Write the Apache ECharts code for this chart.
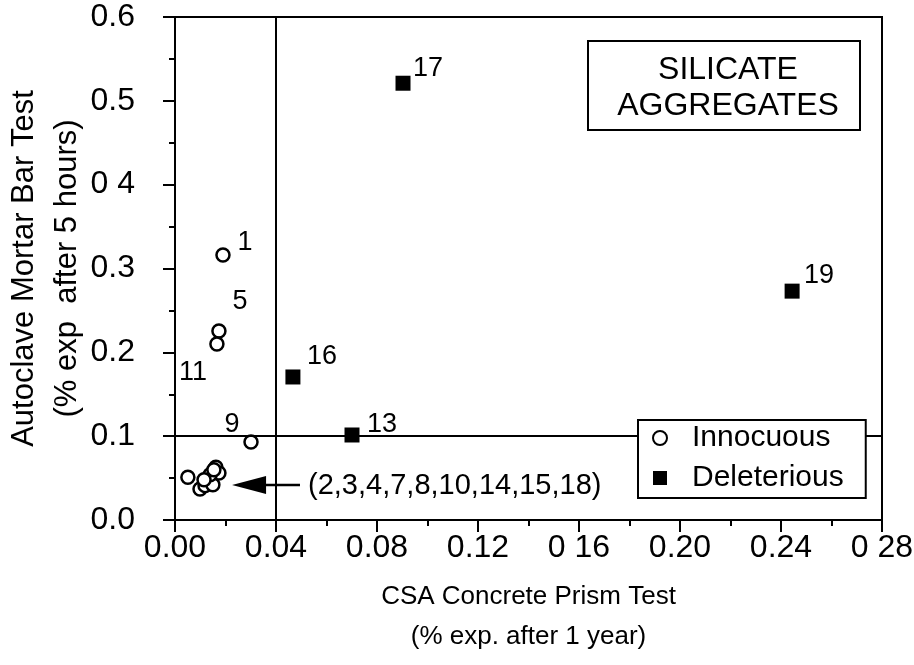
<!DOCTYPE html>
<html><head><meta charset="utf-8">
<script src="https://cdn.jsdelivr.net/npm/echarts@6/dist/echarts.min.js"></script>
<style>html,body{margin:0;padding:0;background:#fff}#c{width:914px;height:665px}</style>
</head><body><div id="c"></div>
<script>
// ---- data ----
const xTickLabels = ['0.00','0.04','0.08','0.12','0 16','0.20','0.24','0 28'];
const yTickLabels = ['0.0','0.1','0.2','0.3','0 4','0.5','0.6'];
const innocuousIds = ['1','5','11','9','c1','c2','c3','c4','c5','c6','c7','c8','c9'];
const innocuousX = [0.0190,0.0174,0.0166,0.0301,0.0051,0.0099,0.0119,0.0150,0.0162,0.0174,0.0139,0.0115,0.0154];
const innocuousY = [0.316,0.2255,0.210,0.093,0.051,0.037,0.041,0.042,0.063,0.056,0.054,0.048,0.060];
const deleteriousIds = ['17','19','16','13'];
const deleteriousX = [0.0903,0.2444,0.0467,0.0701];
const deleteriousY = [0.521,0.273,0.1706,0.1014];
const clusterLabel = '(2,3,4,7,8,10,14,15,18)';
const arrowTail = [0.0495,0.0418];
const arrowTip = [0.0226,0.0418];
const refX = 0.04, refY = 0.1;

// ---- label placement (style) ----
const labelOffsets = {'1':[22,-13],'5':[21,-29],'11':[-24,29],'9':[-19,-17],
  '17':[25,-15],'19':[27,-16],'16':[29,-20],'13':[30,-10]};

const FONT = '"Liberation Sans", Arial, Helvetica, sans-serif';
const INK = '#000';
function mk(ids, xs, ys){
  return ids.map((id,i)=>{
    const item = {value:[xs[i],ys[i]], name:id};
    if (labelOffsets[id]) {
      item.label = {show:true, formatter:id, position:'inside', offset:labelOffsets[id],
        color:INK, fontSize:27, fontFamily:FONT};
    }
    return item;
  });
}

const chart = echarts.init(document.getElementById('c'));
const option = {
  animation:false,
  backgroundColor:'#fff',
  grid:{left:175, right:32, top:17, bottom:145, show:true, borderColor:INK, borderWidth:2,
    outerBoundsMode:'none', containLabel:false},
  xAxis:{type:'value', min:0, max:0.28, interval:0.04,
    name:'CSA Concrete Prism Test\n(% exp. after 1 year)', nameLocation:'middle', nameGap:57,
    nameMoveOverlap:false,
    nameTextStyle:{fontSize:26, lineHeight:40, color:INK, fontFamily:FONT},
    axisLine:{show:true, lineStyle:{color:INK, width:2}},
    axisTick:{show:true, inside:false, length:12, lineStyle:{color:INK, width:2}},
    minorTick:{show:true, splitNumber:2, length:6, lineStyle:{color:INK, width:2}},
    splitLine:{show:false},
    axisLabel:{margin:12, fontSize:32, color:INK, fontFamily:FONT,
      formatter:v=>xTickLabels[Math.round(v/0.04)]}},
  yAxis:{type:'value', min:0, max:0.6, interval:0.1,
    name:'Autoclave Mortar Bar Test\n(% exp  after 5 hours)', nameLocation:'middle', nameGap:86, nameRotate:90,
    nameMoveOverlap:false,
    nameTextStyle:{fontSize:31, lineHeight:43, color:INK, fontFamily:FONT},
    axisLine:{show:true, lineStyle:{color:INK, width:2}},
    axisTick:{show:true, inside:false, length:12, lineStyle:{color:INK, width:2}},
    minorTick:{show:true, splitNumber:2, length:6, lineStyle:{color:INK, width:2}},
    splitLine:{show:false},
    axisLabel:{margin:40, fontSize:32, color:INK, fontFamily:FONT,
      formatter:v=>yTickLabels[Math.round(v/0.1)]}},
  legend:{orient:'vertical', left:638, top:420, padding:[2,22,4,14], itemGap:8,
    itemWidth:14, itemHeight:14, backgroundColor:'#fff', borderColor:INK, borderWidth:2,
    textStyle:{fontSize:30, lineHeight:32, color:INK, fontFamily:FONT, padding:[0,0,0,20]},
    data:['Innocuous','Deleterious'], z:10},
  series:[
    {name:'Innocuous', type:'scatter', symbol:'circle', symbolSize:13,
      itemStyle:{color:'#fff', borderColor:INK, borderWidth:2.5, opacity:1},
      data:mk(innocuousIds, innocuousX, innocuousY),
      markLine:{silent:true, symbol:['none','none'], label:{show:false},
        lineStyle:{color:INK, width:2, type:'solid'},
        data:[{xAxis:refX},{yAxis:refY}]}, z:3},
    {name:'Deleterious', type:'scatter', symbol:'rect', symbolSize:15,
      itemStyle:{color:INK, opacity:1},
      data:mk(deleteriousIds, deleteriousX, deleteriousY), z:3}
  ]
};
chart.setOption(option);

// annotations placed through the chart's own coordinate conversion
const pTail = chart.convertToPixel({gridIndex:0}, arrowTail);
const pTip = chart.convertToPixel({gridIndex:0}, arrowTip);
const headLen = 34, headHalf = 9;
chart.setOption({graphic:[
  {type:'line', shape:{x1:pTail[0], y1:pTail[1], x2:pTip[0]+headLen-2, y2:pTip[1]},
    style:{stroke:INK, lineWidth:2.5}, z:20},
  {type:'polygon', shape:{points:[[pTip[0],pTip[1]],[pTip[0]+headLen,pTip[1]-headHalf],[pTip[0]+headLen,pTip[1]+headHalf]]},
    style:{fill:INK}, z:20},
  {type:'text', x:pTail[0]+8, y:pTail[1]+1, style:{text:clusterLabel, fontSize:29, fontFamily:FONT,
    fill:INK, textVerticalAlign:'middle', textAlign:'left'}, z:20},
  {type:'rect', shape:{x:588, y:41, width:272, height:89}, style:{fill:'#fff', stroke:INK, lineWidth:2}, z:20},
  {type:'text', x:728, y:70, style:{text:'SILICATE', fontSize:32, fontFamily:FONT, fill:INK,
    textAlign:'center', textVerticalAlign:'middle'}, z:21},
  {type:'text', x:728, y:106, style:{text:'AGGREGATES', fontSize:32, fontFamily:FONT, fill:INK,
    textAlign:'center', textVerticalAlign:'middle'}, z:21}
]});
</script></body></html>
